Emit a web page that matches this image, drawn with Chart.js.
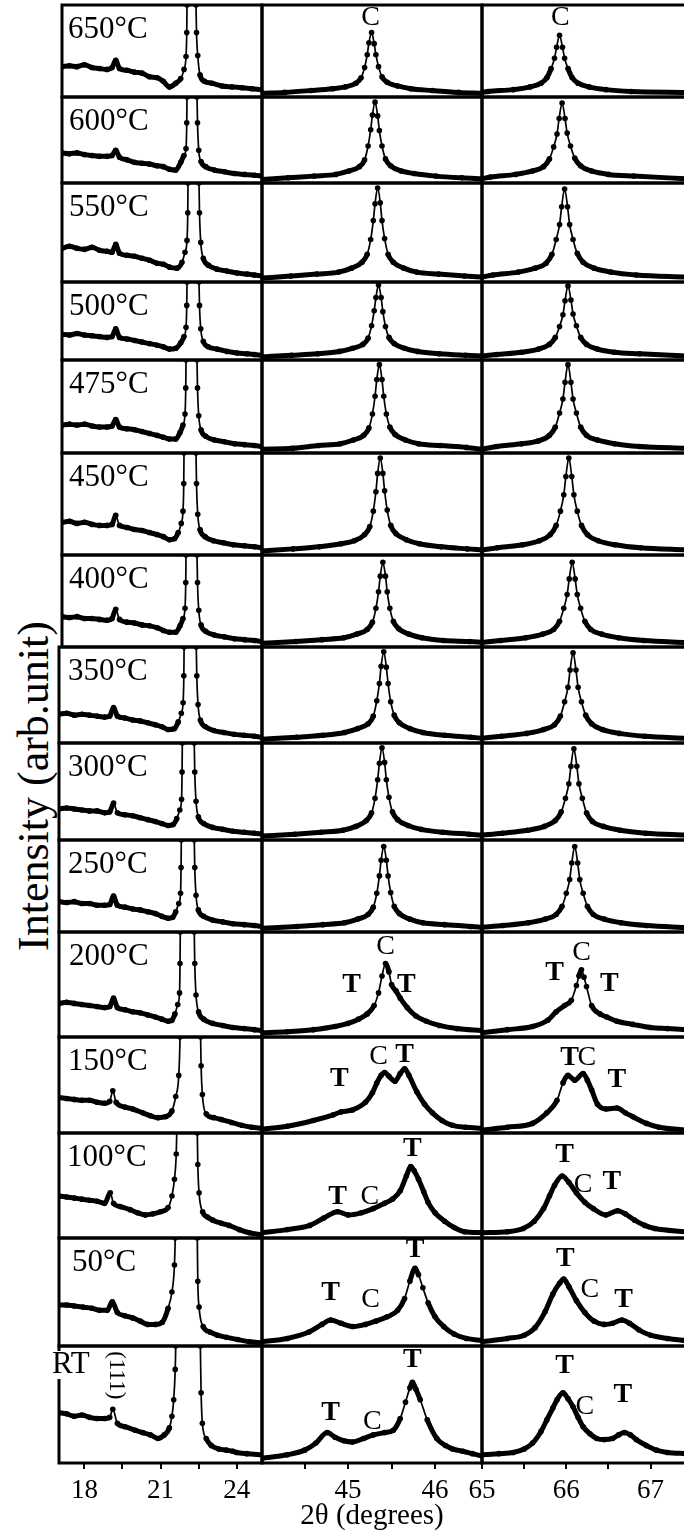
<!DOCTYPE html>
<html>
<head>
<meta charset="utf-8">
<script src="https://cdn.jsdelivr.net/npm/chart.js@4.4.1/dist/chart.umd.min.js"></script>
<style>
  body { margin: 0; background: #fff; width: 684px; height: 1533px; overflow: hidden; position: relative; }
  canvas { position: absolute; }
  .ytitle {
    position: absolute; left: 34px; top: 786px;
    transform: translate(-50%, -50%) rotate(-90deg);
    font: 44px "Liberation Serif", serif; line-height: 1; white-space: nowrap; color: #000;
  }
</style>
</head>
<body>
<div class="ytitle">Intensity (arb.unit)</div>
<script>
// ---- data: [2θ, intensity as % of panel height] ----

const TEMPS = ['650°C','600°C','550°C','500°C','475°C','450°C','400°C','350°C','300°C','250°C','200°C','150°C','100°C','50°C','RT'];

// column A: 17–25°
const A650 = [[17.0,33],[17.3,34],[17.6,33],[17.9,35],[18.2,32],[18.5,31],[18.8,30],[19.0,32],[19.15,40],[19.3,31],[19.6,29],[19.9,27],[20.2,26],[20.5,22],[20.8,21],[21.05,17],[21.3,11],[21.55,15],[21.75,20],[21.88,30],[21.96,44],[21.99,70],[22.0,100],[22.02,140],[22.34,140],[22.36,100],[22.38,70],[22.43,45],[22.52,24],[22.7,17],[23.0,15],[23.4,12],[23.8,11],[24.2,10],[24.6,9],[25.0,8]];
const A600 = [[17.0,35],[17.3,34],[17.6,35],[17.9,33],[18.2,32],[18.5,31],[18.8,31],[19.0,32],[19.15,38],[19.3,30],[19.6,27],[19.9,24],[20.2,23],[20.5,22],[20.8,20],[21.05,19],[21.3,16],[21.55,15],[21.75,24],[21.88,32],[21.96,40],[21.99,70],[22.0,100],[22.02,140],[22.38,140],[22.4,100],[22.42,70],[22.47,38],[22.56,25],[22.75,19],[23.1,15],[23.5,13],[23.9,11],[24.3,10],[24.7,9],[25.0,8]];
const A550 = [[17.0,34],[17.3,36],[17.6,34],[17.9,33],[18.2,35],[18.5,32],[18.8,31],[19.0,30],[19.15,38],[19.3,29],[19.6,27],[19.9,26],[20.2,24],[20.5,22],[20.8,19],[21.05,18],[21.3,15],[21.6,14],[21.8,20],[21.92,30],[22.0,42],[22.03,70],[22.04,100],[22.06,140],[22.46,140],[22.48,100],[22.5,70],[22.55,40],[22.65,24],[22.85,17],[23.2,13],[23.6,11],[24.0,9],[24.4,8],[24.7,7],[25.0,6]];
const A500 = [[17.0,33],[17.3,32],[17.6,34],[17.9,32],[18.2,31],[18.5,30],[18.8,29],[19.0,30],[19.15,40],[19.3,29],[19.6,27],[19.9,25],[20.2,23],[20.5,21],[20.8,19],[21.05,17],[21.3,14],[21.55,15],[21.75,22],[21.88,30],[21.96,42],[21.99,70],[22.0,100],[22.02,140],[22.46,140],[22.48,100],[22.5,70],[22.55,40],[22.65,24],[22.85,17],[23.2,14],[23.6,11],[24.0,9],[24.4,8],[24.7,7],[25.0,6]];
const A475 = [[17.0,30],[17.3,31],[17.6,30],[17.9,31],[18.2,29],[18.5,28],[18.8,28],[19.0,29],[19.15,36],[19.3,28],[19.6,26],[19.9,25],[20.2,23],[20.5,21],[20.8,19],[21.05,17],[21.3,15],[21.55,15],[21.72,22],[21.84,30],[21.92,42],[21.95,70],[21.96,100],[21.98,140],[22.38,140],[22.4,100],[22.42,70],[22.47,40],[22.56,25],[22.75,18],[23.1,14],[23.5,12],[23.9,10],[24.3,9],[24.7,8],[25.0,7]];
const A450 = [[17.0,32],[17.3,33],[17.6,31],[17.9,32],[18.2,30],[18.5,29],[18.8,29],[19.0,30],[19.15,39],[19.3,29],[19.6,27],[19.9,25],[20.2,24],[20.5,22],[20.8,20],[21.05,18],[21.3,15],[21.5,16],[21.65,22],[21.77,31],[21.84,43],[21.87,70],[21.88,100],[21.9,140],[22.34,140],[22.36,100],[22.38,70],[22.43,40],[22.52,25],[22.72,18],[23.05,14],[23.45,12],[23.85,10],[24.3,9],[24.7,8],[25.0,7]];
const A400 = [[17.0,33],[17.3,32],[17.6,33],[17.9,31],[18.2,31],[18.5,30],[18.8,29],[19.0,31],[19.15,41],[19.3,30],[19.6,27],[19.9,26],[20.2,24],[20.5,23],[20.8,21],[21.05,18],[21.3,16],[21.55,16],[21.72,23],[21.84,31],[21.92,42],[21.95,70],[21.96,100],[21.98,140],[22.38,140],[22.4,100],[22.42,70],[22.47,40],[22.56,24],[22.75,17],[23.1,13],[23.5,11],[23.9,9],[24.3,8],[24.7,7],[25.0,6]];
const A350 = [[17.0,30],[17.3,31],[17.6,29],[17.9,30],[18.2,29],[18.5,28],[18.8,27],[19.0,28],[19.15,37],[19.3,28],[19.6,26],[19.9,24],[20.2,23],[20.5,21],[20.8,19],[21.05,17],[21.3,14],[21.55,15],[21.7,22],[21.82,31],[21.89,42],[21.92,70],[21.93,100],[21.95,140],[22.39,140],[22.41,100],[22.43,70],[22.48,40],[22.57,24],[22.77,17],[23.1,13],[23.5,11],[23.9,9],[24.3,8],[24.7,7],[25.0,6]];
const A300 = [[17.0,32],[17.3,33],[17.6,32],[17.9,31],[18.2,30],[18.5,30],[18.8,28],[19.0,29],[19.15,38],[19.3,28],[19.6,26],[19.9,25],[20.2,23],[20.5,21],[20.8,19],[21.05,17],[21.3,15],[21.5,16],[21.64,22],[21.76,31],[21.83,42],[21.85,70],[21.86,100],[21.88,140],[22.31,140],[22.33,100],[22.35,70],[22.4,40],[22.49,24],[22.7,17],[23.05,13],[23.45,11],[23.85,9],[24.3,8],[24.7,7],[25.0,6]];
const A250 = [[17.0,33],[17.3,32],[17.6,33],[17.9,31],[18.2,31],[18.5,29],[18.8,29],[19.0,30],[19.15,39],[19.3,29],[19.6,27],[19.9,25],[20.2,24],[20.5,22],[20.8,20],[21.05,17],[21.3,15],[21.48,16],[21.6,22],[21.72,31],[21.79,42],[21.81,70],[21.82,100],[21.84,140],[22.31,140],[22.33,100],[22.35,70],[22.4,40],[22.49,24],[22.7,17],[23.05,13],[23.45,11],[23.85,9],[24.3,8],[24.7,7],[25.0,6]];
const A200 = [[17.0,32],[17.3,33],[17.6,32],[17.9,31],[18.2,30],[18.5,29],[18.8,28],[19.0,29],[19.15,37],[19.3,28],[19.6,26],[19.9,24],[20.2,23],[20.5,21],[20.8,19],[21.05,17],[21.3,15],[21.45,16],[21.57,22],[21.68,31],[21.75,42],[21.77,70],[21.78,100],[21.8,140],[22.31,140],[22.33,100],[22.35,70],[22.4,40],[22.5,24],[22.7,17],[23.05,13],[23.45,11],[23.85,9],[24.3,8],[24.7,7],[25.0,6]];
const A150 = [[17.0,37],[17.3,36],[17.6,35],[17.9,34],[18.2,34],[18.5,32],[18.8,31],[19.0,33],[19.12,44],[19.25,32],[19.6,27],[19.9,25],[20.3,21],[20.6,18],[20.9,16],[21.2,17],[21.45,23],[21.6,38],[21.72,60],[21.77,100],[21.79,140],[22.56,140],[22.58,100],[22.6,70],[22.65,40],[22.8,20],[23.1,16],[23.4,14],[23.8,11],[24.2,8],[24.6,6],[25.0,5]];
const A100 = [[17.0,40],[17.3,39],[17.6,38],[17.9,37],[18.2,36],[18.5,35],[18.8,33],[19.02,43],[19.15,33],[19.4,30],[19.8,27],[20.1,24],[20.4,22],[20.7,23],[21.0,25],[21.3,29],[21.45,40],[21.55,56],[21.62,80],[21.65,110],[21.67,140],[22.43,140],[22.45,100],[22.47,70],[22.52,43],[22.66,25],[22.85,20],[23.06,17],[23.4,14],[23.7,12],[24.1,8],[24.5,5],[25.0,3]];
const A50  = [[17.0,38],[17.3,38],[17.6,37],[17.95,36],[18.3,35],[18.6,33],[18.9,33],[19.1,41],[19.3,31],[19.6,28],[19.9,26],[20.2,23],[20.5,20],[20.8,20],[21.07,22],[21.3,35],[21.45,50],[21.55,75],[21.58,100],[21.6,140],[22.43,140],[22.45,100],[22.47,60],[22.52,36],[22.68,18],[22.95,13],[23.24,10],[23.6,8],[24.03,6],[24.5,4],[25.0,3]];
const ART  = [[17.0,43],[17.3,42],[17.6,40],[17.9,41],[18.2,39],[18.5,38],[18.8,38],[19.0,39],[19.12,46],[19.3,34],[19.6,31],[20.0,28],[20.3,26],[20.6,24],[20.9,21],[21.15,24],[21.35,30],[21.45,40],[21.52,54],[21.58,80],[21.6,100],[21.62,140],[22.55,140],[22.57,100],[22.6,60],[22.65,34],[22.8,21],[23.0,15],[23.3,12],[23.6,11],[23.85,10],[24.0,9],[24.4,8],[25.0,7]];

// column B: 44–46.5°
const B650 = [[44.01,4],[44.27,5],[44.57,7],[44.82,9],[44.97,11],[45.09,15],[45.15,21],[45.19,32],[45.22,46],[45.24,59],[45.27,70],[45.30,58],[45.32,46],[45.35,33],[45.39,22],[45.45,16],[45.57,12],[45.72,9],[45.97,7],[46.27,5],[46.54,4]];
const B600 = [[44.01,4],[44.31,6],[44.61,8],[44.86,10],[45.01,14],[45.13,19],[45.19,27],[45.23,43],[45.26,62],[45.28,79],[45.31,94],[45.34,78],[45.36,61],[45.39,43],[45.43,28],[45.49,20],[45.61,14],[45.76,11],[46.01,8],[46.31,6],[46.54,5]];
const B550 = [[44.01,4],[44.34,6],[44.64,8],[44.89,10],[45.04,14],[45.16,20],[45.22,28],[45.26,43],[45.29,62],[45.31,79],[45.34,95],[45.37,80],[45.39,62],[45.42,44],[45.46,28],[45.52,20],[45.64,14],[45.79,10],[46.04,8],[46.34,6],[46.54,5]];
const B500 = [[44.01,4],[44.35,6],[44.65,8],[44.9,11],[45.05,15],[45.17,20],[45.23,28],[45.27,44],[45.3,63],[45.32,80],[45.35,96],[45.38,80],[45.4,62],[45.43,43],[45.47,29],[45.53,21],[45.65,15],[45.8,11],[46.05,8],[46.35,6],[46.54,5]];
const B475 = [[44.01,4],[44.36,5],[44.66,8],[44.91,10],[45.06,14],[45.18,19],[45.24,27],[45.28,42],[45.31,61],[45.33,79],[45.36,95],[45.39,79],[45.41,61],[45.44,42],[45.48,28],[45.54,20],[45.66,14],[45.81,10],[46.06,8],[46.36,6],[46.54,4]];
const B450 = [[44.01,4],[44.37,6],[44.67,8],[44.92,11],[45.07,14],[45.19,20],[45.25,28],[45.29,43],[45.32,62],[45.34,80],[45.37,95],[45.4,80],[45.42,63],[45.45,44],[45.49,29],[45.55,21],[45.67,15],[45.82,11],[46.07,8],[46.37,6],[46.54,5]];
const B400 = [[44.01,4],[44.4,6],[44.7,8],[44.95,10],[45.1,14],[45.22,19],[45.28,27],[45.32,42],[45.35,60],[45.37,77],[45.4,92],[45.43,77],[45.45,60],[45.48,42],[45.52,28],[45.58,20],[45.7,14],[45.85,10],[46.1,7],[46.4,6],[46.54,5]];
const B350 = [[44.01,4],[44.41,6],[44.71,8],[44.96,11],[45.11,15],[45.23,20],[45.29,28],[45.33,44],[45.36,62],[45.38,80],[45.41,95],[45.44,79],[45.46,62],[45.49,43],[45.53,29],[45.59,21],[45.71,15],[45.86,11],[46.11,8],[46.41,6],[46.54,5]];
const B300 = [[44.01,4],[44.39,6],[44.69,8],[44.94,10],[45.09,14],[45.21,20],[45.27,28],[45.31,43],[45.34,62],[45.36,79],[45.39,95],[45.42,80],[45.44,62],[45.47,44],[45.51,29],[45.57,21],[45.69,15],[45.84,11],[46.09,8],[46.39,6],[46.54,5]];
const B250 = [[44.01,4],[44.41,6],[44.71,8],[44.96,10],[45.11,14],[45.23,19],[45.29,27],[45.33,42],[45.36,61],[45.38,78],[45.41,93],[45.44,78],[45.46,61],[45.49,43],[45.53,28],[45.59,20],[45.71,14],[45.86,10],[46.11,8],[46.41,6],[46.54,5]];
const B200 = [[44.01,4],[44.3,5],[44.6,7],[44.85,10],[45.0,13],[45.12,17],[45.22,22],[45.3,30],[45.35,42],[45.39,58],[45.43,70],[45.47,62],[45.5,50],[45.55,44],[45.6,37],[45.68,28],[45.78,20],[45.9,15],[46.05,11],[46.25,8],[46.54,6]];
const B150 = [[44.01,4],[44.3,7],[44.6,13],[44.83,19],[44.92,22],[45.05,24],[45.2,32],[45.28,42],[45.33,52],[45.38,60],[45.42,63],[45.47,59],[45.54,54],[45.6,62],[45.65,67],[45.7,60],[45.79,43],[45.88,30],[45.97,21],[46.08,13],[46.2,8],[46.35,6],[46.54,5]];
const B100 = [[44.01,5],[44.3,8],[44.56,12],[44.72,19],[44.88,25],[45.0,22],[45.15,24],[45.29,28],[45.42,33],[45.51,37],[45.6,45],[45.67,59],[45.72,68],[45.76,64],[45.81,56],[45.87,44],[45.92,34],[46.0,24],[46.11,16],[46.22,10],[46.34,6],[46.54,5]];
const B50  = [[44.01,4],[44.3,7],[44.55,13],[44.7,20],[44.8,24],[44.92,21],[45.05,18],[45.2,20],[45.32,23],[45.45,27],[45.57,33],[45.65,44],[45.71,60],[45.77,72],[45.81,66],[45.86,54],[45.92,40],[46.0,27],[46.1,18],[46.22,11],[46.36,7],[46.54,5]];
const BRT  = [[44.01,4],[44.3,7],[44.5,11],[44.63,17],[44.76,26],[44.85,22],[44.95,19],[45.05,18],[45.18,21],[45.29,24],[45.42,26],[45.52,28],[45.6,38],[45.66,52],[45.71,64],[45.74,69],[45.78,63],[45.83,54],[45.91,37],[46.02,21],[46.12,15],[46.2,12],[46.32,10],[46.43,8],[46.54,6]];

// column C: 65–67.4°
const C650 = [[65.0,5],[65.07,6],[65.37,8],[65.57,11],[65.7,15],[65.77,21],[65.82,31],[65.86,42],[65.885,54],[65.92,67],[65.955,54],[65.98,42],[66.02,31],[66.07,21],[66.14,15],[66.27,11],[66.47,8],[66.77,6],[67.42,5]];
const C600 = [[65.0,5],[65.1,7],[65.4,10],[65.6,14],[65.73,19],[65.8,28],[65.85,42],[65.89,57],[65.915,75],[65.95,93],[65.985,75],[66.01,58],[66.05,43],[66.1,29],[66.17,20],[66.3,14],[66.5,10],[66.8,8],[67.42,5]];
const C550 = [[65.0,5],[65.13,7],[65.43,10],[65.63,14],[65.76,19],[65.83,28],[65.88,43],[65.92,58],[65.945,76],[65.98,94],[66.015,76],[66.04,58],[66.08,43],[66.13,29],[66.2,20],[66.33,14],[66.53,10],[66.83,7],[67.42,5]];
const C500 = [[65.0,5],[65.17,7],[65.47,10],[65.67,14],[65.8,20],[65.87,29],[65.92,43],[65.96,58],[65.985,76],[66.02,95],[66.055,77],[66.08,59],[66.12,44],[66.17,29],[66.24,20],[66.37,14],[66.57,10],[66.87,8],[67.42,5]];
const C475 = [[65.0,4],[65.17,7],[65.47,10],[65.67,13],[65.8,19],[65.87,28],[65.92,43],[65.96,58],[65.985,76],[66.02,95],[66.055,76],[66.08,58],[66.12,43],[66.17,28],[66.24,19],[66.37,14],[66.57,10],[66.87,7],[67.42,5]];
const C450 = [[65.0,5],[65.18,7],[65.48,10],[65.68,14],[65.81,20],[65.88,29],[65.93,43],[65.97,59],[65.995,77],[66.03,95],[66.065,77],[66.09,59],[66.13,43],[66.18,29],[66.25,20],[66.38,14],[66.58,10],[66.88,7],[67.42,5]];
const C400 = [[65.0,5],[65.22,7],[65.52,10],[65.72,14],[65.85,19],[65.92,28],[65.97,42],[66.01,57],[66.035,74],[66.07,92],[66.105,74],[66.13,57],[66.17,42],[66.22,28],[66.29,19],[66.42,14],[66.62,10],[66.92,7],[67.42,5]];
const C350 = [[65.0,5],[65.23,7],[65.53,10],[65.73,14],[65.86,19],[65.93,28],[65.98,43],[66.02,58],[66.045,76],[66.08,94],[66.115,76],[66.14,58],[66.18,43],[66.23,29],[66.3,20],[66.43,14],[66.63,10],[66.93,7],[67.42,5]];
const C300 = [[65.0,5],[65.24,7],[65.54,10],[65.74,14],[65.87,20],[65.94,29],[65.99,43],[66.03,58],[66.055,76],[66.09,94],[66.125,76],[66.15,58],[66.19,43],[66.24,28],[66.31,19],[66.44,14],[66.64,10],[66.94,7],[67.42,5]];
const C250 = [[65.0,5],[65.25,7],[65.55,10],[65.75,14],[65.88,19],[65.95,28],[66.0,42],[66.04,57],[66.065,75],[66.1,93],[66.135,75],[66.16,57],[66.2,42],[66.25,28],[66.32,19],[66.45,14],[66.65,10],[66.95,7],[67.42,5]];
const C200 = [[65.0,4],[65.3,7],[65.6,10],[65.78,16],[65.88,24],[65.98,30],[66.06,35],[66.12,49],[66.15,58],[66.18,64],[66.21,57],[66.24,48],[66.3,30],[66.4,22],[66.48,19],[66.6,15],[66.79,12],[67.0,9],[67.2,8],[67.42,7]];
const C150 = [[65.0,3],[65.3,6],[65.6,10],[65.77,21],[65.89,34],[65.96,52],[66.02,60],[66.1,55],[66.2,62],[66.25,55],[66.3,45],[66.37,30],[66.47,25],[66.6,26],[66.7,21],[66.79,17],[66.95,10],[67.1,6],[67.42,3]];
const C100 = [[65.0,5],[65.3,6],[65.49,9],[65.62,16],[65.73,28],[65.8,40],[65.86,50],[65.95,59],[66.03,53],[66.12,43],[66.22,34],[66.32,28],[66.47,22],[66.61,26],[66.7,23],[66.81,17],[66.93,12],[67.05,9],[67.42,6]];
const C50  = [[65.0,4],[65.3,7],[65.5,10],[65.63,17],[65.75,32],[65.84,48],[65.92,58],[65.97,62],[66.03,55],[66.12,42],[66.22,31],[66.33,23],[66.45,20],[66.55,21],[66.66,24],[66.75,21],[66.86,15],[67.0,10],[67.2,7],[67.42,5]];
const CRT  = [[65.0,7],[65.2,8],[65.37,9],[65.5,12],[65.6,17],[65.7,27],[65.77,37],[65.84,47],[65.89,54],[65.96,60],[66.02,55],[66.08,48],[66.14,39],[66.2,31],[66.28,25],[66.36,21],[66.45,20],[66.55,21],[66.62,24],[66.69,26],[66.76,24],[66.83,20],[66.95,15],[67.07,11],[67.2,9],[67.42,8]];

const SERIES = [
  [A650, B650, C650], [A600, B600, C600], [A550, B550, C550], [A500, B500, C500],
  [A475, B475, C475], [A450, B450, C450], [A400, B400, C400], [A350, B350, C350],
  [A300, B300, C300], [A250, B250, C250], [A200, B200, C200], [A150, B150, C150],
  [A100, B100, C100], [A50, B50, C50], [ART, BRT, CRT],
];

const X_RANGE   = [[17, 25], [44.01, 46.54], [65, 67.42]];
const X_TICKS   = [[18, 19.5, 21, 22.5, 24], [44.5, 45, 45.5, 46], [65, 65.5, 66, 66.5, 67]];
const X_LABELED = [[18, 21, 24], [45, 46], [65, 66, 67]];

// peak labels: [row, col, text, 2θ, height %]
const PEAK_LABELS = [
  [0, 1, 'C', 45.26, 86], [0, 2, 'C', 65.93, 86],
  [10, 1, 'C', 45.43, 86], [10, 1, 'T', 45.04, 50], [10, 1, 'T', 45.67, 50],
  [10, 2, 'C', 66.18, 80], [10, 2, 'T', 65.86, 61], [10, 2, 'T', 66.51, 51],
  [11, 1, 'T', 44.9, 56], [11, 1, 'C', 45.35, 80], [11, 1, 'T', 45.65, 82],
  [11, 2, 'T', 66.04, 78], [11, 2, 'C', 66.245, 78], [11, 2, 'T', 66.6, 55],
  [12, 1, 'T', 44.88, 39], [12, 1, 'C', 45.25, 39], [12, 1, 'T', 45.74, 85],
  [12, 2, 'T', 65.98, 79], [12, 2, 'C', 66.2, 51], [12, 2, 'T', 66.54, 54],
  [13, 1, 'T', 44.8, 49], [13, 1, 'C', 45.26, 43], [13, 1, 'T', 45.77, 89],
  [13, 2, 'T', 65.99, 81], [13, 2, 'C', 66.28, 52], [13, 2, 'T', 66.68, 43],
  [14, 1, 'T', 44.8, 43], [14, 1, 'C', 45.28, 35], [14, 1, 'T', 45.74, 88],
  [14, 2, 'T', 65.98, 83], [14, 2, 'C', 66.22, 48], [14, 2, 'T', 66.67, 58],
];
const ROT_LABELS = [[14, 0, '(111)', 19.25, 75]];

// ---- layout (page pixels) ----
const ROW_EDGES = [5, 97, 183, 282, 360, 453, 555, 647, 743, 840, 932, 1037, 1133, 1238, 1346, 1463];
const COL1_LEFT = [62, 62, 62, 62, 62, 62, 62, 59, 59, 59, 59, 59, 59, 59, 59];
const COL_EDGES = [null, 262, 482, 686];
const TEMP_DX   = [6, 7, 7, 7, 7, 7, 7, 9, 9, 9, 10, 9, 8, 13, -7];
const PAD = 20;
const AXIS_H = 71;
const FONT = '"Liberation Serif", "Times New Roman", serif';

const panelDecor = {
  id: 'panelDecor',
  afterDraw(chart, args, opts) {
    const { ctx, chartArea: a, scales: { x, y } } = chart;
    ctx.save();
    ctx.strokeStyle = '#000';
    ctx.lineWidth = 3;
    ctx.strokeRect(a.left, a.top, a.right - a.left, a.bottom - a.top);
    ctx.fillStyle = '#000';
    if (opts.temp) {
      ctx.font = `31px ${FONT}`;
      ctx.textAlign = 'left';
      ctx.textBaseline = 'middle';
      const tx = a.left + opts.tempDx;
      const ty = a.top + (opts.temp === 'RT' ? 19 : 25);
      if (opts.temp === 'RT') {
        ctx.fillStyle = '#fff';
        ctx.fillRect(tx, ty - 14, ctx.measureText('RT').width, 28);
        ctx.fillStyle = '#000';
      }
      ctx.fillText(opts.temp, tx, ty);
    }
    ctx.textAlign = 'center';
    ctx.textBaseline = 'middle';
    for (const [text, vx, vy] of opts.labels) {
      ctx.font = `${text === 'T' ? 'bold ' : ''}28px ${FONT}`;
      ctx.fillText(text, x.getPixelForValue(vx), y.getPixelForValue(vy));
    }
    for (const [text, vx, vy] of opts.rotated) {
      ctx.save();
      ctx.translate(x.getPixelForValue(vx), y.getPixelForValue(vy));
      ctx.rotate(Math.PI / 2);
      ctx.font = `23px ${FONT}`;
      ctx.fillText(text, 0, 0);
      ctx.restore();
    }
    ctx.restore();
  },
};

function makePanel(r, c) {
  const left = c === 0 ? COL1_LEFT[r] : COL_EDGES[c];
  const right = COL_EDGES[c + 1];
  const top = ROW_EDGES[r];
  const bottom = ROW_EDGES[r + 1];
  const last = r === TEMPS.length - 1;
  const w = right - left + 2 * PAD;
  const h = bottom - top + PAD + (last ? AXIS_H : PAD);

  const cv = document.createElement('canvas');
  cv.width = w; cv.height = h;
  cv.style.left = (left - PAD) + 'px';
  cv.style.top = (top - PAD) + 'px';
  cv.style.width = w + 'px';
  cv.style.height = h + 'px';
  document.body.appendChild(cv);

  const labels = PEAK_LABELS.filter(l => l[0] === r && l[1] === c).map(l => l.slice(2));
  const rotated = ROT_LABELS.filter(l => l[0] === r && l[1] === c).map(l => l.slice(2));

  new Chart(cv, {
    type: 'scatter',
    data: {
      datasets: [{
        data: SERIES[r][c],
        showLine: true,
        borderColor: '#000',
        borderWidth: 5,
        cubicInterpolationMode: 'monotone',
        pointRadius: 2.8,
        pointBackgroundColor: '#000',
        pointBorderWidth: 0,
        segment: {
          borderWidth: s => {
            const dx = Math.abs(s.p1.x - s.p0.x), dy = Math.abs(s.p1.y - s.p0.y);
            return dy > 2.5 * dx ? 1.7 : 5;
          },
        },
      }],
    },
    options: {
      responsive: false,
      animation: false,
      devicePixelRatio: 1,
      events: [],
      layout: { padding: { left: PAD, right: PAD, top: PAD, bottom: last ? 0 : PAD } },
      plugins: {
        legend: { display: false },
        tooltip: { enabled: false },
        panelDecor: { temp: c === 0 ? TEMPS[r] : null, tempDx: TEMP_DX[r], labels, rotated },
      },
      scales: {
        x: {
          type: 'linear',
          min: X_RANGE[c][0],
          max: X_RANGE[c][1],
          display: last,
          afterBuildTicks: s => { s.ticks = X_TICKS[c].map(v => ({ value: v })); },
          afterFit: s => {
            if (!last) return;
            s.height = AXIS_H; s.paddingLeft = 0; s.paddingRight = 0;
          },
          grid: { display: true, drawOnChartArea: false, drawTicks: true, tickLength: 6, color: '#000', lineWidth: 2 },
          border: { display: false },
          ticks: {
            autoSkip: false, maxRotation: 0, minRotation: 0, padding: 6, color: '#000',
            font: { family: FONT, size: 27 },
            callback: v => (X_LABELED[c].includes(v) ? String(v) : ''),
          },
          title: {
            display: c === 1,
            text: '2θ (degrees)',
            color: '#000',
            font: { family: FONT, size: 29 },
            padding: { top: 0, bottom: 0 },
          },
        },
        y: { type: 'linear', min: 0, max: 100, display: false },
      },
    },
    plugins: [panelDecor],
  });
}

for (let r = 0; r < TEMPS.length; r++) {
  for (let c = 0; c < 3; c++) makePanel(r, c);
}
</script>
</body>
</html>
